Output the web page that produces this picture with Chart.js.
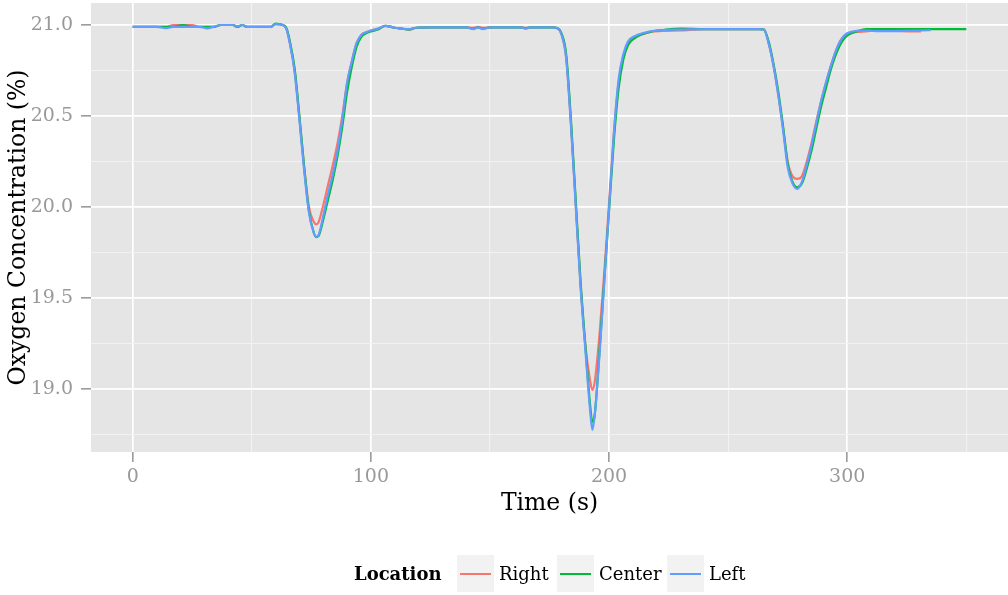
<!DOCTYPE html>
<html>
<head>
<meta charset="utf-8">
<script src="https://cdn.jsdelivr.net/npm/chart.js@4.4.1/dist/chart.umd.min.js"></script>
<style>
  html, body { margin: 0; padding: 0; background: #fff; }
  #wrap { position: relative; width: 1008px; height: 595px; }
  .lg { position: absolute; font-family: "DejaVu Serif", serif; font-size: 18px; color: #000; line-height: 37px; top: 555px; white-space: nowrap; }
  .lg.title { font-weight: bold; }
  .key { position: absolute; top: 555px; width: 37px; height: 37px; background: #f2f2f2; }
  .key span { position: absolute; left: 3px; right: 3px; top: 17.5px; height: 2px; }
</style>
</head>
<body>
<div id="wrap">
  <canvas id="myChart" width="1008" height="595"></canvas>
  <div id="legend"></div>
</div>
<script>
// time in seconds, shared by the three sensors
const time = [
  0, 10, 14, 17, 21, 25, 28, 31, 34, 37,
  42, 44, 46, 48, 58, 60, 63, 64.5, 66, 68,
  70, 72, 74, 76, 77, 78, 80, 82, 84, 86,
  88, 90, 92, 94, 96, 98, 100, 103, 106, 110,
  113, 116, 119, 125, 140, 143, 145, 147, 150, 163,
  165, 167, 176, 178.5, 180, 182, 184, 186, 188, 190,
  192, 193, 194, 196, 198, 200, 202, 204, 206, 208,
  211, 214, 218, 224, 230, 240, 250, 263, 265, 267,
  269, 271, 273, 275, 277, 279, 281, 283, 285, 287,
  289, 291, 293, 295, 297, 299, 301, 304, 308, 312,
  318, 325, 331, 335, 340, 350
];

const right = [
  20.99, 20.99, 20.99, 21.0, 21.0, 21.0, 20.99, 20.99, 20.99, 21.0,
  21.0, 20.99, 21.0, 20.99, 20.99, 21.005, 21.0, 20.98, 20.9, 20.75,
  20.49, 20.22, 20.0, 19.92, 19.905, 19.915, 20.01, 20.12, 20.23, 20.35,
  20.5, 20.68, 20.8, 20.9, 20.945, 20.96, 20.97, 20.98, 20.995, 20.985,
  20.98, 20.975, 20.985, 20.987, 20.987, 20.985, 20.99, 20.985, 20.987, 20.987,
  20.985, 20.987, 20.987, 20.98, 20.95, 20.82, 20.46, 20.02, 19.58, 19.25,
  19.05, 18.995, 19.04, 19.3, 19.64, 20.02, 20.4, 20.68, 20.83, 20.9,
  20.935, 20.95, 20.963, 20.968, 20.97, 20.978, 20.978, 20.978, 20.975, 20.9,
  20.78, 20.62, 20.44, 20.25, 20.17, 20.155, 20.17, 20.25, 20.35, 20.47,
  20.58, 20.68, 20.77, 20.85, 20.91, 20.945, 20.955, 20.962, 20.965, 20.97,
  20.97, 20.965, 20.965, null, null, null
];

const center = [
  20.99, 20.99, 20.99, 20.99, 21.0, 20.99, 20.99, 20.99, 20.99, 21.0,
  21.0, 20.99, 21.0, 20.99, 20.99, 21.008, 21.0, 20.985, 20.91, 20.76,
  20.5, 20.22, 19.98, 19.86, 19.835, 19.84, 19.93, 20.04, 20.15, 20.28,
  20.44, 20.63, 20.77, 20.88, 20.935, 20.955, 20.965, 20.975, 20.995, 20.985,
  20.98, 20.975, 20.985, 20.987, 20.987, 20.98, 20.987, 20.98, 20.987, 20.987,
  20.982, 20.987, 20.987, 20.982, 20.955, 20.84, 20.48, 20.04, 19.6, 19.25,
  18.92, 18.82, 18.86, 19.21, 19.6, 19.98, 20.36, 20.65, 20.81, 20.89,
  20.93, 20.95, 20.965, 20.975, 20.98, 20.978, 20.978, 20.978, 20.975, 20.91,
  20.79, 20.64, 20.45, 20.24, 20.14, 20.108, 20.13, 20.21, 20.31, 20.43,
  20.55, 20.65, 20.75, 20.83, 20.89, 20.93, 20.95, 20.965, 20.978, 20.978,
  20.978, 20.978, 20.978, 20.978, 20.978, 20.978
];

const left = [
  20.99, 20.99, 20.983, 20.99, 20.99, 20.99, 20.99, 20.982, 20.99, 21.0,
  21.0, 20.993, 21.0, 20.99, 20.99, 21.005, 21.0, 20.98, 20.9, 20.74,
  20.48, 20.2, 19.97, 19.86, 19.837, 19.845, 19.95, 20.07, 20.18, 20.31,
  20.48, 20.68, 20.8, 20.9, 20.945, 20.96, 20.97, 20.98, 20.995, 20.985,
  20.98, 20.977, 20.985, 20.987, 20.987, 20.978, 20.987, 20.978, 20.987, 20.987,
  20.98, 20.987, 20.987, 20.98, 20.95, 20.82, 20.45, 20.01, 19.57, 19.225,
  18.89, 18.775, 18.86, 19.19, 19.59, 19.99, 20.4, 20.7, 20.84, 20.91,
  20.94, 20.955, 20.967, 20.973, 20.975, 20.978, 20.978, 20.978, 20.975, 20.9,
  20.78, 20.62, 20.43, 20.22, 20.13, 20.1, 20.14, 20.23, 20.34, 20.46,
  20.58, 20.68, 20.77, 20.85, 20.91, 20.945, 20.96, 20.968, 20.97, 20.967,
  20.967, 20.968, 20.97, 20.972, null, null
];

const seriesNames = ["Right", "Center", "Left"];
const seriesColors = ["#F8766D", "#00BA38", "#619CFF"];

const xTicks = [0, 50, 100, 150, 200, 250, 300, 350];
const xLabels = [0, 100, 200, 300];
const yTicks = [18.75, 19.0, 19.25, 19.5, 19.75, 20.0, 20.25, 20.5, 20.75, 21.0];
const yLabels = [19.0, 19.5, 20.0, 20.5, 21.0];

const FONT = "DejaVu Serif";

const toPoints = (vals) =>
  time.map((t, i) => ({ x: t, y: vals[i] })).filter((p) => p.y !== null);

const panelBg = {
  id: "panelBg",
  beforeDraw(chart) {
    const { ctx, chartArea: a } = chart;
    ctx.save();
    ctx.fillStyle = "#e5e5e5";
    ctx.fillRect(a.left, a.top, a.right - a.left, a.bottom - a.top);
    ctx.restore();
  },
};

const gridOpts = (labels) => ({
  color: (c) => (c.tick && labels.includes(c.tick.value) ? "#ffffff" : "#f2f2f2"),
  lineWidth: (c) => (c.tick && labels.includes(c.tick.value) ? 1.7 : 1.1),
  tickColor: (c) => (c.tick && labels.includes(c.tick.value) ? "#8c8c8c" : "rgba(0,0,0,0)"),
  tickLength: 10,
  tickWidth: 1.4,
  drawTicks: true,
});

const allData = [right, center, left];

const ctx = document.getElementById("myChart").getContext("2d");
const myChart = new Chart(ctx, {
  type: "line",
  data: {
    datasets: seriesNames.map((name, i) => ({
      label: name,
      data: toPoints(allData[i]),
      borderColor: seriesColors[i],
      backgroundColor: seriesColors[i],
      order: 2 - i,
    })),
  },
  options: {
    responsive: false,
    animation: false,
    layout: { padding: { top: 3, right: 0, bottom: 68, left: 0 } },
    plugins: { legend: { display: false }, tooltip: { enabled: false } },
    elements: {
      point: { radius: 0 },
      line: { borderWidth: 2.2, cubicInterpolationMode: "monotone" },
    },
    scales: {
      x: {
        type: "linear",
        min: -17.5,
        max: 367.5,
        afterBuildTicks: (s) => { s.ticks = xTicks.map((v) => ({ value: v })); },
        afterFit: (s) => { s.height = 75; s.paddingLeft = 0; s.paddingRight = 0; },
        grid: gridOpts(xLabels),
        border: { display: false },
        ticks: {
          autoSkip: false,
          maxRotation: 0,
          padding: 4,
          color: "#999999",
          font: { family: FONT, size: 19 },
          callback: (v) => (xLabels.includes(v) ? String(v) : ""),
        },
        title: {
          display: true,
          text: "Time (s)",
          color: "#000",
          font: { family: FONT, size: 23.5 },
          padding: { top: 0, bottom: 9 },
        },
      },
      y: {
        type: "linear",
        min: 18.654,
        max: 21.121,
        afterBuildTicks: (s) => { s.ticks = yTicks.map((v) => ({ value: v })); },
        afterFit: (s) => { s.width = 91; s.paddingTop = 0; s.paddingBottom = 0; },
        grid: gridOpts(yLabels),
        border: { display: false },
        ticks: {
          autoSkip: false,
          padding: 8,
          color: "#999999",
          font: { family: FONT, size: 19 },
          callback: (v) => (yLabels.includes(v) ? v.toFixed(1) : ""),
        },
        title: {
          display: true,
          text: "Oxygen Concentration (%)",
          color: "#000",
          font: { family: FONT, size: 23.5 },
          padding: { top: 5, bottom: 0 },
        },
      },
    },
  },
  plugins: [panelBg],
});

// legend in the ggplot style
const legend = document.getElementById("legend");
const keyLefts = [457, 557, 667];
const labelLefts = [499, 599, 709];
legend.innerHTML = '<div class="lg title" style="left:354px">Location</div>' +
  seriesNames.map((n, i) =>
    '<div class="key" style="left:' + keyLefts[i] + 'px"><span style="background:' + seriesColors[i] + '"></span></div>' +
    '<div class="lg" style="left:' + labelLefts[i] + 'px">' + n + '</div>'
  ).join("");
</script>
</body>
</html>
